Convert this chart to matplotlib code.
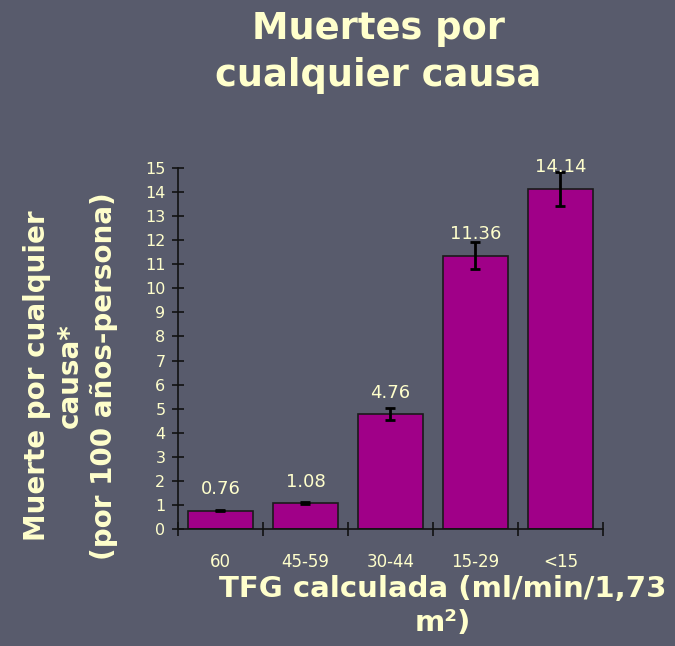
import matplotlib
matplotlib.use('Agg')
import matplotlib.pyplot as plt
import numpy as np

categorias = ['60', '45-59', '30-44', '15-29', '<15']
muertes = [0.76, 1.08, 4.76, 11.36, 14.14]
errores = [0.03, 0.05, 0.25, 0.57, 0.71]
etiquetas = ['0.76', '1.08', '4.76', '11.36', '14.14']

fondo = '#585B6C'
texto = '#FFFFCC'
barra = '#A00088'

fig = plt.figure(figsize=(6.75, 6.46), dpi=100)
fig.patch.set_facecolor(fondo)
ax = fig.add_axes([0.2637, 0.1811, 0.6296, 0.5588])
ax.set_facecolor(fondo)

x = np.arange(len(categorias))
ax.bar(x, muertes, width=0.77, color=barra, edgecolor='#1a1a1a', linewidth=1.2, zorder=2)
ax.errorbar(x, muertes, yerr=errores, fmt='none', ecolor='black', elinewidth=2,
            capsize=3.5, capthick=2, zorder=3)

for xi, v, lab in zip(x, muertes, etiquetas):
    ax.annotate(lab, (xi, v), xytext=(0, 9), textcoords='offset points',
                ha='center', va='bottom', color=texto, fontsize=13)

ax.set_xlim(-0.5, 4.5)
ax.set_ylim(0, 15)
ax.set_yticks(range(0, 16))
ax.set_xticks(x)
ax.set_xticklabels(categorias)
ax.set_xticks(np.arange(-0.5, 5.0, 1.0), minor=True)
ax.tick_params(axis='x', which='major', length=0, pad=17, labelsize=12, labelcolor=texto)
ax.tick_params(axis='x', which='minor', direction='inout', length=10, width=1.2, color='#111111')
ax.tick_params(axis='y', direction='inout', length=8, width=1.2, color='#111111',
               labelsize=11.5, labelcolor=texto, pad=5)

for s in ['top', 'right']:
    ax.spines[s].set_visible(False)
for s in ['left', 'bottom']:
    ax.spines[s].set_color('#111111')
    ax.spines[s].set_linewidth(1.2)

fig.text(0.56, 0.984, 'Muertes por\ncualquier causa', ha='center', va='top',
         color=texto, fontsize=26.5, fontweight='bold', linespacing=1.32)

fig.text(0.104, 0.418, 'Muerte por cualquier\ncausa*\n(por 100 años-persona)',
         rotation=90, ha='center', va='center', multialignment='center',
         color=texto, fontsize=20, fontweight='bold', linespacing=1.25)

fig.text(0.656, 0.062, 'TFG calculada (ml/min/1,73\nm²)', ha='center', va='center',
         multialignment='center', color=texto, fontsize=21, fontweight='bold', linespacing=1.25)

plt.savefig('out.png', dpi=100, facecolor=fondo)
